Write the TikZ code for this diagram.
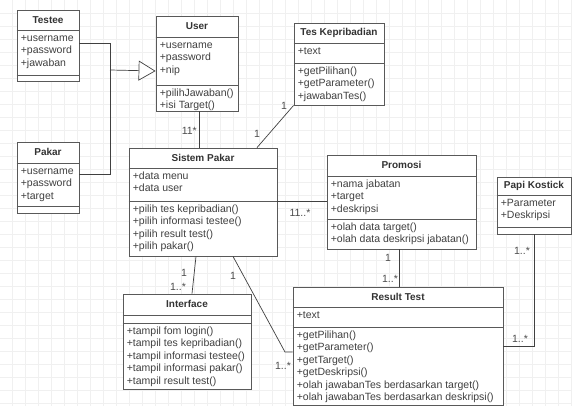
\documentclass[tikz,border=0pt]{standalone}
\usepackage{fontspec}
\setmainfont{Liberation Sans}
\usetikzlibrary{arrows.meta,calc,fit,shadows}

\tikzset{
  classbox/.style={draw=black!65, fill=white, inner sep=0pt, line width=0.8pt,
    drop shadow={shadow xshift=1.2pt, shadow yshift=-1.2pt, fill=black!35, opacity=0.5}},
  classline/.style={draw=black!65, line width=0.8pt},
  classtitle/.style={font=\bfseries, text=black!80},
  classtext/.style={anchor=north west, align=left, inner sep=1pt, text=black!75},
  assoc/.style={draw=black!75, line width=0.7pt},
  mult/.style={inner sep=0pt, text=black!70},
  gridline/.style={draw=black!6, line width=0.5pt},
}

% class box: name, nw corner, se corner, y of 1st and 2nd separator, title, attributes, operations
\newcommand{\umlclass}[8]{%
  \coordinate (#1-nw) at (#2);
  \coordinate (#1-se) at (#3);
  \node[classbox, fit=(#1-nw)(#1-se)] (#1) {};
  \draw[classline] (#1.west |- 0,#4) -- (#1.east |- 0,#4);
  \draw[classline] (#1.west |- 0,#5) -- (#1.east |- 0,#5);
  \node[classtitle] (#1-title) at ($(#1.north)!0.5!(#1.north |- 0,#4)$) {#6};
  \node[classtext] (#1-attr) at ([xshift=3pt, yshift=-1.5pt]#1.west |- 0,#4) {\strut#7};
  \node[classtext] (#1-ops) at ([xshift=3pt, yshift=-1.5pt]#1.west |- 0,#5) {\strut#8};
}

\begin{document}
\begin{tikzpicture}[x=1pt, y=-1pt, font=\fontsize{10.5}{12.5}\selectfont]
\useasboundingbox (0,0) rectangle (572,406);

% background grid
\foreach \gx in {12,25,...,571} \draw[gridline] (\gx,0) -- (\gx,406);
\foreach \gy in {13,26,...,406} \draw[gridline] (0,\gy) -- (572,\gy);

% classes
\umlclass{testee}{17,10}{79,81}{30}{75}{Testee}{+username\\+password\\+jawaban}{}
\umlclass{user}{156,16}{238,111}{37}{85}{User}{+username\\+password\\+nip}{+pilihJawaban()\\+isi Target()}
\umlclass{teskep}{294,23}{384,105}{43}{63}{Tes Kepribadian}{+text}{+getPilihan()\\+getParameter()\\+jawabanTes()}
\umlclass{pakar}{17,142}{79,213}{163}{206}{Pakar}{+username\\+password\\+target}{}
\umlclass{sistem}{129,148}{277,256}{168}{201}{Sistem Pakar}{+data menu\\+data user}{+pilih tes kepribadian()\\+pilih informasi testee()\\+pilih result test()\\+pilih pakar()}
\umlclass{promosi}{327,155}{476,249}{176}{219}{Promosi}{+nama jabatan\\+target\\+deskripsi}{+olah data target()\\+olah data deskripsi jabatan()}
\umlclass{papi}{497,177}{571,234}{195}{227}{Papi Kostick}{+Parameter\\+Deskripsi}{}
\umlclass{interface}{123,294}{251,389}{315}{323}{Interface}{}{+tampil fom login()\\+tampil tes kepribadian()\\+tampil informasi testee()\\+tampil informasi pakar()\\+tampil result test()}
\umlclass{result}{293,287}{503,405}{307}{327}{Result Test}{+text}{+getPilihan()\\+getParameter()\\+getTarget()\\+getDeskripsi()\\+olah jawabanTes berdasarkan target()\\+olah jawabanTes berdasarkan deskripsi()}

% generalization
\coordinate (join) at (110,70);
\draw[assoc] (testee.east |- 0,43) -| (join);
\draw[assoc] (pakar.east |- 0,174) -| (join);
\draw[assoc, -{Triangle[open, length=17pt, width=20pt, fill=white]}] (join) -- (user.west |- 0,71);

% associations
\draw[assoc] (199,0 |- user.south) -- (199,0 |- sistem.north);
\draw[assoc] (257,0 |- sistem.north) -- (teskep.south west);
\draw[assoc] (sistem.east |- 0,201) -- (promosi.west |- 0,201);
\draw[assoc] (399,0 |- promosi.south) -- (399,0 |- result.north);
\draw[assoc] (papi.south) |- (result.east |- 0,346);
\draw[assoc] (196,0 |- sistem.south) -- (192,0 |- interface.north);
\coordinate (bend) at (285,352);
\draw[assoc] (233,0 |- sistem.south) -- (bend) -- (result.west |- bend);

% multiplicities
\node[mult, anchor=east] (m-user) at (197,131) {11*};
\node[mult] (m-sis1) at (257,134) {1};
\node[mult] (m-tes) at (284,106) {1};
\node[mult] (m-pro) at (300,213) {11..*};
\node[mult] (m-pro1) at (388,258) {1};
\node[mult] (m-res1) at (390,279) {1..*};
\node[mult] (m-papi) at (522,251) {1..*};
\node[mult] (m-res2) at (520,339) {1..*};
\node[mult] (m-sis2) at (184,273) {1};
\node[mult] (m-int) at (178,287) {1..*};
\node[mult] (m-sis3) at (233,276) {1};
\node[mult] (m-res3) at (283,366) {1..*};
\end{tikzpicture}
\end{document}
